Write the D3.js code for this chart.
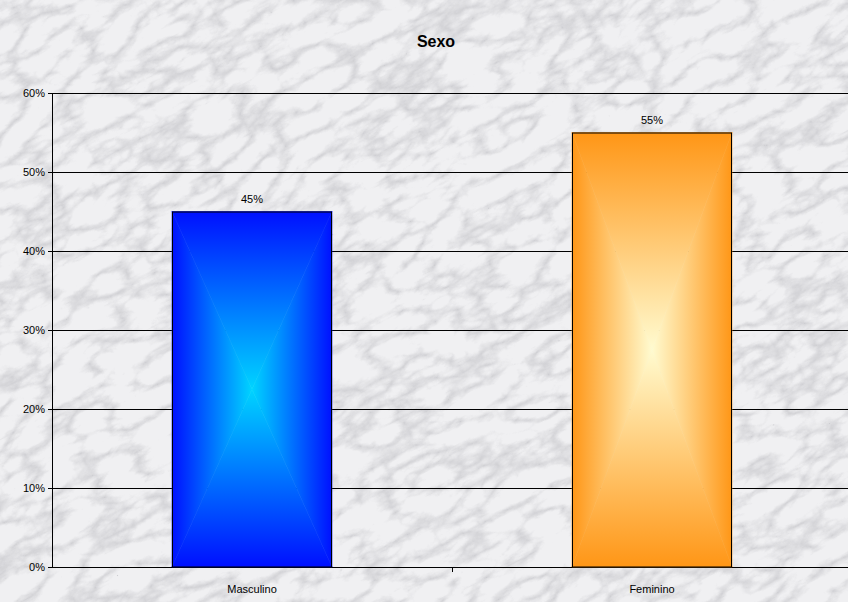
<!DOCTYPE html>
<html><head><meta charset="utf-8">
<script src="https://cdn.jsdelivr.net/npm/d3@7"></script>
<style>html,body{margin:0;padding:0;background:#fff}svg{display:block}</style>
</head><body>
<script>
const categories = ["Masculino", "Feminino"];
const values = [0.45, 0.55];
const yTicks = [0, 0.1, 0.2, 0.3, 0.4, 0.5, 0.6];
const title = "Sexo";
const barColors = [{edge:"#0010ff", center:"#00d4ff"}, {edge:"#ff9616", center:"#fffbd0"}];

(function(){
const W = 848, H = 602;
const svg = d3.select("body").append("svg").attr("width", W).attr("height", H);
const defs = svg.append("defs");

// marble-like background
const f = defs.append("filter").attr("id","marble").attr("x",0).attr("y",0).attr("width","100%").attr("height","100%");
f.append("feTurbulence").attr("type","turbulence").attr("baseFrequency","0.02 0.04").attr("numOctaves",6).attr("seed",11).attr("result","t");
f.append("feColorMatrix").attr("in","t").attr("type","matrix")
 .attr("values","0 0 0 0 0.42  0 0 0 0 0.42  0 0 0 0 0.45  -2.2 0 0 0 0.85").attr("result","c");
f.append("feComposite").attr("in","c").attr("in2","SourceGraphic").attr("operator","in");
svg.append("rect").attr("width",W).attr("height",H).attr("fill","#f0f0f2");
svg.append("g").attr("transform","rotate(-28 424 301)")
  .append("rect").attr("x",-250).attr("y",-250).attr("width",W+500).attr("height",H+500).attr("fill","#fff").attr("filter","url(#marble)").attr("opacity",0.6);

const pLeft = 52, pRight = 852, pTop = 93, pBottom = 567;
const x = d3.scaleBand().domain(categories).range([pLeft, pRight]).paddingInner(0.6).paddingOuter(0.3);
const xCat = d3.scaleBand().domain(categories).range([pLeft, pRight]);
const y = d3.scaleLinear().domain([0, 0.6]).range([pBottom, pTop]);

// gridlines
svg.append("g").selectAll("line").data(yTicks.filter(d=>d>0)).join("line")
  .attr("x1", pLeft).attr("x2", pRight).attr("y1", d=>y(d)).attr("y2", d=>y(d))
  .attr("stroke","#000").attr("stroke-width",1).attr("shape-rendering","crispEdges");

// y axis
const yAxis = d3.axisLeft(y).tickValues(yTicks).tickFormat(d3.format(".0%")).tickSize(4).tickPadding(3);
const gy = svg.append("g").attr("transform",`translate(${pLeft},0)`).call(yAxis);
gy.select(".domain").attr("stroke","#000").attr("shape-rendering","crispEdges");
gy.selectAll("line").attr("stroke","#000").attr("shape-rendering","crispEdges");
gy.selectAll("text").attr("font-family","Liberation Sans, Arial, sans-serif").attr("font-size",11).attr("fill","#000");

// x axis
const gx = svg.append("g").attr("transform",`translate(0,${pBottom})`);
gx.append("line").attr("x1",pLeft).attr("x2",pRight).attr("stroke","#000").attr("shape-rendering","crispEdges");
gx.selectAll("line.tk").data(categories.slice(1)).join("line").attr("class","tk")
  .attr("x1",d=>xCat(d)).attr("x2",d=>xCat(d)).attr("y1",0).attr("y2",5).attr("stroke","#000").attr("shape-rendering","crispEdges");
gx.selectAll("text").data(categories).join("text")
  .attr("x", d=>xCat(d)+xCat.bandwidth()/2).attr("y", 26).attr("text-anchor","middle")
  .attr("font-family","Liberation Sans, Arial, sans-serif").attr("font-size",11).text(d=>d);

// bars with rectangular "from center" gradient built from 4 triangles
categories.forEach((c,i)=>{
  const bx = x(c), bw = x.bandwidth(), by = y(values[i]), bh = pBottom - by;
  const cx = bx + bw/2, cy = by + bh/2;
  const col = barColors[i];
  const mk = (id, x1,y1,x2,y2) => {
    const g = defs.append("linearGradient").attr("id",id).attr("gradientUnits","userSpaceOnUse")
      .attr("x1",x1).attr("y1",y1).attr("x2",x2).attr("y2",y2);
    g.append("stop").attr("offset",0).attr("stop-color",col.edge);
    g.append("stop").attr("offset",1).attr("stop-color",col.center);
  };
  mk(`gt${i}`, cx, by, cx, cy);
  mk(`gb${i}`, cx, pBottom, cx, cy);
  mk(`gl${i}`, bx, cy, cx, cy);
  mk(`gr${i}`, bx+bw, cy, cx, cy);
  const g = svg.append("g");
  const tri = (pts, id) => g.append("path").attr("d", d3.line()(pts)+"Z").attr("fill",`url(#${id})`).attr("stroke",`url(#${id})`).attr("stroke-width",0.6);
  tri([[bx,by],[bx+bw,by],[cx,cy]], `gt${i}`);
  tri([[bx,pBottom],[bx+bw,pBottom],[cx,cy]], `gb${i}`);
  tri([[bx,by],[bx,pBottom],[cx,cy]], `gl${i}`);
  tri([[bx+bw,by],[bx+bw,pBottom],[cx,cy]], `gr${i}`);
  g.append("rect").attr("x",bx+0.5).attr("y",by+0.5).attr("width",bw-1).attr("height",bh-0.5)
    .attr("fill","none").attr("stroke","#000").attr("stroke-width",1);
  svg.append("text").attr("x",cx).attr("y",by-9).attr("text-anchor","middle")
    .attr("font-family","Liberation Sans, Arial, sans-serif").attr("font-size",11).text(d3.format(".0%")(values[i]));
});

svg.append("text").attr("x",436).attr("y",47).attr("text-anchor","middle")
  .attr("font-family","Liberation Sans, Arial, sans-serif").attr("font-size",16).attr("font-weight","bold").text(title);
})();
</script>
</body></html>
